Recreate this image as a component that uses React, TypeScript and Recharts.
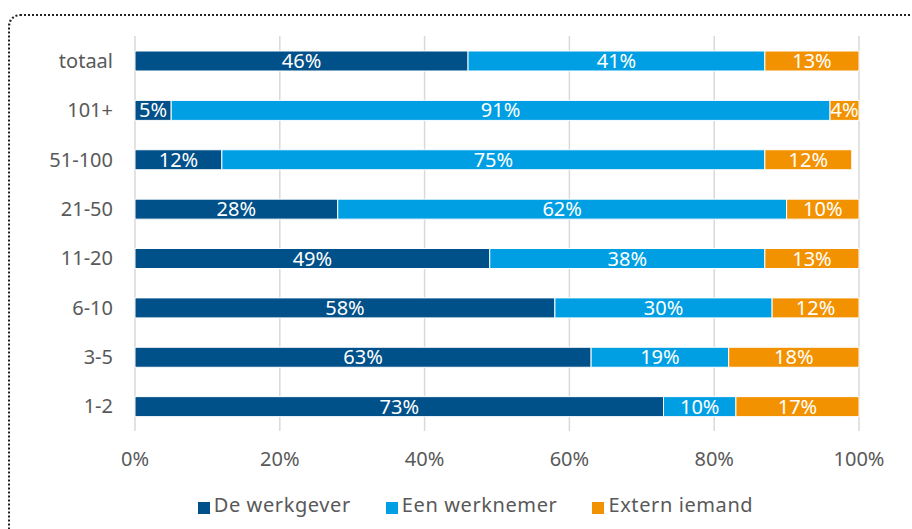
import React from "react";
import {
  BarChart, Bar, XAxis, YAxis, CartesianGrid, Legend, LabelList,
} from "recharts";

const categories = ["totaal", "101+", "51-100", "21-50", "11-20", "6-10", "3-5", "1-2"];
const werkgever = [46, 5, 12, 28, 49, 58, 63, 73];
const werknemer = [41, 91, 75, 62, 38, 30, 19, 10];
const extern = [13, 4, 12, 10, 13, 12, 18, 17];
const xTicks = [0, 20, 40, 60, 80, 100];

const COLOR_DARK = "#00508A";
const COLOR_LIGHT = "#009FE3";
const COLOR_ORANGE = "#F39200";
const TEXT = "#595959";
const FONT = "'Noto Sans', sans-serif";
const FS = 20;

const chartData = categories.map((c, i) => ({
  name: c,
  werkgever: werkgever[i],
  werknemer: werknemer[i],
  extern: extern[i],
}));

const labelStyle = { fill: "#ffffff", fontSize: FS, fontFamily: FONT };
const fmt = (v: any) => `${v}%`;

export default function App() {
  return (
    <div
      style={{
        position: "absolute", left: 0, top: 0, width: 912, height: 529,
        overflow: "hidden", background: "#fff", fontFamily: FONT,
      }}
    >
      {/* gestippelde kader */}
      <div
        style={{
          position: "absolute", left: 8, top: 14, width: 1000, height: 600,
          border: "2px dotted #222", borderRadius: 12,
        }}
      />
      <BarChart
        width={912}
        height={529}
        data={chartData}
        layout="vertical"
        margin={{ top: 36, right: 53, left: 0, bottom: 0 }}
        barCategoryGap={0}
      >
        <CartesianGrid horizontal={false} stroke="#d9d9d9" strokeWidth={1.5} />
        <XAxis
          type="number"
          domain={[0, 100]}
          ticks={xTicks}
          tickFormatter={fmt}
          axisLine={false}
          tickLine={false}
          tickMargin={15}
          height={60}
          tick={{ fontSize: FS, fill: TEXT, fontFamily: FONT }}
        />
        <YAxis
          type="category"
          dataKey="name"
          width={135}
          axisLine={false}
          tickLine={false}
          tickMargin={16}
          tick={{ fontSize: FS, fill: TEXT, fontFamily: FONT }}
        />
        <Legend
          verticalAlign="bottom"
          height={38}
          iconType="square"
          iconSize={12}
          wrapperStyle={{ left: 74, width: 838 }}
          formatter={(value) => (
            <span style={{ color: TEXT, fontSize: FS, fontFamily: FONT, letterSpacing: 0.6, marginRight: 25 }}>
              {value}
            </span>
          )}
        />
        <Bar dataKey="werkgever" name="De werkgever" stackId="a" fill={COLOR_DARK}
          stroke="#fff" strokeWidth={1} barSize={20} isAnimationActive={false}>
          <LabelList dataKey="werkgever" position="center" formatter={fmt} style={labelStyle} />
        </Bar>
        <Bar dataKey="werknemer" name="Een werknemer" stackId="a" fill={COLOR_LIGHT}
          stroke="#fff" strokeWidth={1} barSize={20} isAnimationActive={false}>
          <LabelList dataKey="werknemer" position="center" formatter={fmt} style={labelStyle} />
        </Bar>
        <Bar dataKey="extern" name="Extern iemand" stackId="a" fill={COLOR_ORANGE}
          stroke="#fff" strokeWidth={1} barSize={20} isAnimationActive={false}>
          <LabelList dataKey="extern" position="center" formatter={fmt} style={labelStyle} />
        </Bar>
      </BarChart>
    </div>
  );
}
